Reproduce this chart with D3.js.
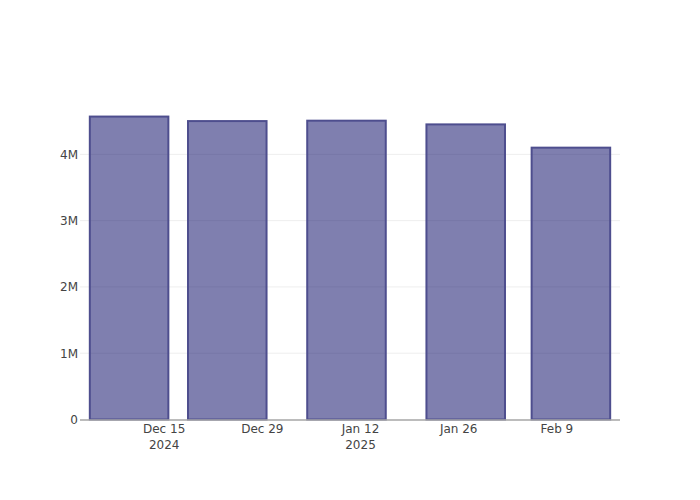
<!DOCTYPE html>
<html>
<head>
<meta charset="utf-8">
<script src="https://cdn.jsdelivr.net/npm/d3@7"></script>
<style>
  html, body { margin: 0; padding: 0; background: #fff; }
  svg { display: block; }
  text { font-family: "DejaVu Sans", "Open Sans", sans-serif; }
</style>
</head>
<body>
<svg id="chart" width="700" height="500"></svg>
<script>
// Data
const dates = ["2024-12-10", "2024-12-24", "2025-01-10", "2025-01-27", "2025-02-11"];
const values = [4570000, 4502000, 4508000, 4452000, 4101000];
const xTickDates = ["2024-12-15", "2024-12-29", "2025-01-12", "2025-01-26", "2025-02-09"];
const xTickLabels = [["Dec 15", "2024"], ["Dec 29"], ["Jan 12", "2025"], ["Jan 26"], ["Feb 9"]];
const yTicks = [0, 1000000, 2000000, 3000000, 4000000];
const yTickLabels = ["0", "1M", "2M", "3M", "4M"];

const parse = d3.utcParse("%Y-%m-%d");
const DAY = 86400000;

const W = 700, H = 500;
const m = { l: 80, r: 80, t: 100, b: 80 };
const svg = d3.select("#chart");

const x = d3.scaleUtc()
  .domain([parse("2024-12-03"), parse("2025-02-18")])
  .range([m.l, W - m.r]);
const y = d3.scaleLinear()
  .domain([0, 4820000])
  .range([H - m.b - 0.5, m.t]);

// gridlines
svg.append("g").selectAll("line")
  .data(yTicks.slice(1))
  .join("line")
  .attr("x1", m.l).attr("x2", W - m.r)
  .attr("y1", d => y(d)).attr("y2", d => y(d))
  .attr("stroke", "#eeeeee").attr("stroke-width", 1);

// bars
const barWidthMs = 14 * DAY * 0.8;
svg.append("g").selectAll("rect")
  .data(dates.map((d, i) => ({ date: parse(d), value: values[i] })))
  .join("rect")
  .attr("x", d => x(new Date(+d.date - barWidthMs / 2)))
  .attr("width", d => x(new Date(+d.date + barWidthMs / 2)) - x(new Date(+d.date - barWidthMs / 2)))
  .attr("y", d => y(d.value))
  .attr("height", d => y(0) - y(d.value))
  .attr("fill", "rgb(0,0,96)")
  .attr("fill-opacity", 0.5)
  .attr("stroke", "#4e4e8e")
  .attr("stroke-width", 2);

// x axis line
svg.append("line")
  .attr("x1", m.l).attr("x2", W - m.r)
  .attr("y1", y(0) + 0.5).attr("y2", y(0) + 0.5)
  .attr("stroke", "#a6a6a6").attr("stroke-width", 1.6);

// y tick labels
svg.append("g").selectAll("text")
  .data(yTicks)
  .join("text")
  .attr("x", m.l - 2)
  .attr("y", d => y(d))
  .attr("dy", "0.36em")
  .attr("text-anchor", "end")
  .attr("font-size", 12)
  .attr("fill", "#444")
  .text((d, i) => yTickLabels[i]);

// x tick labels
const xt = svg.append("g").selectAll("text")
  .data(xTickDates.map((d, i) => ({ date: parse(d), lines: xTickLabels[i] })))
  .join("text")
  .attr("x", d => x(d.date))
  .attr("y", 433)
  .attr("text-anchor", "middle")
  .attr("font-size", 12)
  .attr("fill", "#444");
xt.selectAll("tspan")
  .data(d => d.lines.map(l => ({ l, x: x(d.date) })))
  .join("tspan")
  .attr("x", d => d.x)
  .attr("dy", (d, i) => i === 0 ? 0 : 16)
  .text(d => d.l);
</script>
</body>
</html>
